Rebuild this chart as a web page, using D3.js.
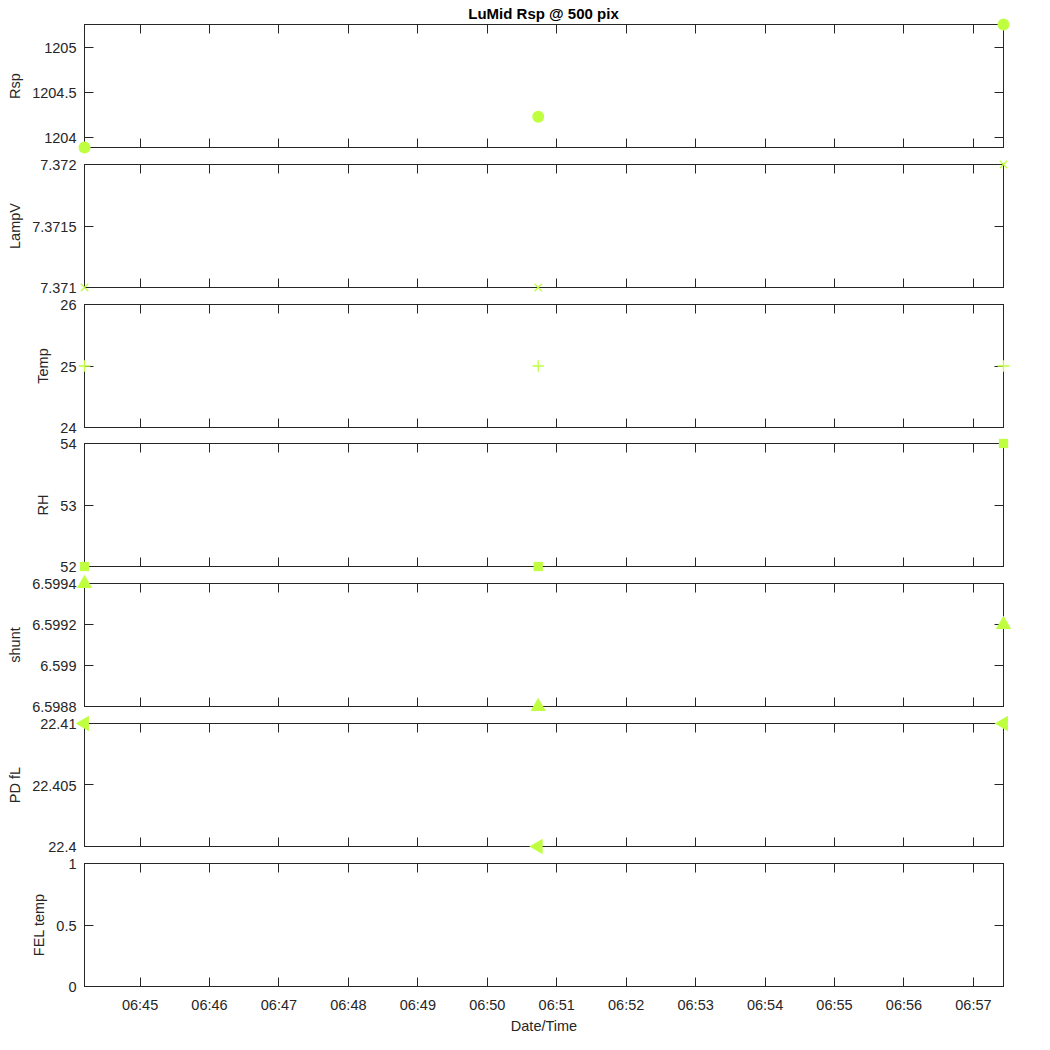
<!DOCTYPE html>
<html>
<head>
<meta charset="utf-8">
<script src="https://cdn.jsdelivr.net/npm/d3@7"></script>
<style>
body { margin: 0; background: #fff; }
text { font-family: "Liberation Sans", Arial, Helvetica, sans-serif; fill: #262626; }
</style>
</head>
<body>
<svg id="chart" width="1050" height="1050"></svg>
<script>
// sample times (3 readings)
var times = ["2021-01-01T06:44:12Z", "2021-01-01T06:50:44Z", "2021-01-01T06:57:26Z"];

// series values
var rsp = [1203.893, 1204.234, 1205.256];
var lampV = [7.371, 7.371, 7.372];
var temp = [25, 25, 25];
var rh = [52, 52, 54];
var shunt = [6.5994, 6.5988, 6.5992];
var pdFl = [22.41, 22.4, 22.41];
var felTemp = [];

var panelNames = ["Rsp", "LampV", "Temp", "RH", "shunt", "PD fL", "FEL temp"];

// y tick labels per panel
var rspTicks = [1204, 1204.5, 1205];
var lampVTicks = [7.371, 7.3715, 7.372];
var tempTicks = [24, 25, 26];
var rhTicks = [52, 53, 54];
var shuntTicks = [6.5988, 6.599, 6.5992, 6.5994];
var pdFlTicks = [22.4, 22.405, 22.41];
var felTempTicks = [0, 0.5, 1];

var title = "LuMid Rsp @ 500 pix",
    xTitle = "Date/Time";

var color = {
	axis: "#262626",
	marker: "#bfff40"
};

var svg = d3.select("#chart"),
    margin = {top: 24, left: 84, right: 47},
    width = 1050 - margin.left - margin.right,
    panelH = 123,
    panelStep = 139.8,
    tickLen = 9,
    fontSize = 14.5;

var dates = times.map(function(t){ return new Date(t); });

var x = d3.scaleUtc().domain(d3.extent(dates)).range([0, width]);
var xTicks = x.ticks(d3.utcMinute.every(1));
var xFormat = d3.utcFormat("%H:%M");

var panels = [
	{name: panelNames[0], values: rsp, ticks: rspTicks, marker: "circle"},
	{name: panelNames[1], values: lampV, ticks: lampVTicks, marker: "x"},
	{name: panelNames[2], values: temp, ticks: tempTicks, marker: "plus"},
	{name: panelNames[3], values: rh, ticks: rhTicks, marker: "square"},
	{name: panelNames[4], values: shunt, ticks: shuntTicks, marker: "up"},
	{name: panelNames[5], values: pdFl, ticks: pdFlTicks, marker: "left"},
	{name: panelNames[6], values: felTemp, ticks: felTempTicks, marker: "circle"}
];

// matlab-like limits: tight to data, +-1 if constant, [0 1] if empty
function yDomain(vals){
	if (!vals.length) return [0, 1];
	var e = d3.extent(vals);
	if (e[0] === e[1]) return [e[0] - 1, e[1] + 1];
	return e;
}

var markerPath = {
	circle: d3.symbol().type(d3.symbolCircle).size(113)(),
	square: d3.symbol().type(d3.symbolSquare).size(86)(),
	up: d3.symbol().type(d3.symbolTriangle).size(102)(),
	left: d3.symbol().type(d3.symbolTriangle).size(102)(),
	x: "M-3.7,-3.7L3.7,3.7M-3.7,3.7L3.7,-3.7",
	plus: "M-5.7,0L5.7,0M0,-5.7L0,5.7"
};

panels.forEach(function(p, i){
	var top = Math.round(margin.top + i * panelStep);
	var y = d3.scaleLinear().domain(yDomain(p.values)).range([panelH, 0]);
	// half pixel offset so 1px lines stay sharp
	var g = svg.append("g").attr("transform", "translate(" + (margin.left + 0.5) + "," + (top + 0.5) + ")");

	g.append("rect")
		.attr("width", width).attr("height", panelH)
		.attr("fill", "#fff")
		.attr("stroke", color.axis).attr("stroke-width", 1);

	var ticks = g.append("g").attr("stroke", color.axis).attr("stroke-width", 1);

	// x ticks, top and bottom, pointing in
	xTicks.forEach(function(t){
		var xx = Math.round(x(t));
		ticks.append("line").attr("x1", xx).attr("x2", xx).attr("y1", panelH).attr("y2", panelH - tickLen);
		ticks.append("line").attr("x1", xx).attr("x2", xx).attr("y1", 0).attr("y2", tickLen);
	});
	// y ticks, left and right
	p.ticks.forEach(function(v){
		var yy = Math.round(y(v));
		ticks.append("line").attr("x1", 0).attr("x2", tickLen).attr("y1", yy).attr("y2", yy);
		ticks.append("line").attr("x1", width).attr("x2", width - tickLen).attr("y1", yy).attr("y2", yy);
	});

	var labels = g.append("g").attr("font-size", fontSize + "px").attr("text-anchor", "end");
	labels.selectAll("text").data(p.ticks).enter().append("text")
		.attr("x", -8)
		.attr("y", function(d){ return y(d); })
		.attr("dy", "0.38em")
		.text(function(d){ return String(d); });

	var minX = d3.min(labels.selectAll("text").nodes(), function(n){ return n.getBBox().x; });

	g.append("text")
		.attr("font-size", fontSize + "px")
		.attr("text-anchor", "middle")
		.attr("transform", "translate(" + (minX - 12) + "," + (panelH / 2) + ") rotate(-90)")
		.text(p.name);

	// markers
	var pts = p.values.map(function(v, k){ return {t: dates[k], v: v}; });
	var stroked = (p.marker === "x" || p.marker === "plus");
	g.selectAll("path.mk").data(pts).enter().append("path")
		.attr("class", "mk")
		.attr("d", markerPath[p.marker])
		.attr("transform", function(d){
			return "translate(" + x(d.t) + "," + y(d.v) + ")" + (p.marker === "left" ? " rotate(-90)" : "");
		})
		.attr("fill", stroked ? "none" : color.marker)
		.attr("stroke", stroked ? color.marker : "none")
		.attr("stroke-width", 1.3);

	// time labels only under the last panel
	if (i === panels.length - 1) {
		g.append("g").attr("font-size", fontSize + "px").attr("text-anchor", "middle")
			.selectAll("text").data(xTicks).enter().append("text")
			.attr("x", function(d){ return x(d); })
			.attr("y", panelH + 23.3)
			.text(function(d){ return xFormat(d); });
		g.append("text")
			.attr("font-size", fontSize + "px").attr("text-anchor", "middle")
			.attr("x", width / 2).attr("y", panelH + 44.7)
			.text(xTitle);
	}
});

svg.append("text")
	.attr("x", margin.left + width / 2).attr("y", 19)
	.attr("text-anchor", "middle")
	.attr("font-size", "15px").attr("font-weight", "bold")
	.style("fill", "#000")
	.text(title);
</script>
</body>
</html>
